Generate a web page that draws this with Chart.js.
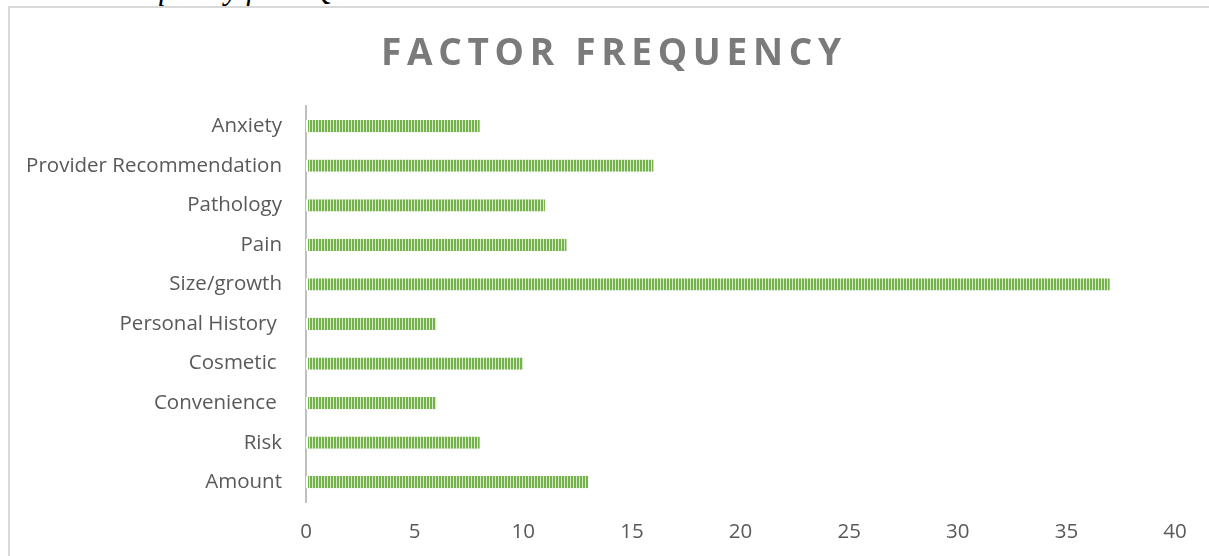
<!DOCTYPE html>
<html>
<head>
<meta charset="utf-8">
<script src="https://cdn.jsdelivr.net/npm/chart.js@4.4.1/dist/chart.umd.min.js"></script>
<style>
  html, body { margin: 0; padding: 0; background: #fff; overflow: hidden; }
  #wrap { position: relative; width: 1209px; height: 556px; overflow: hidden; }
  #caption {
    position: absolute; left: 107px; top: -27px;
    font: italic 31px/31px "Liberation Serif", "Times New Roman", serif;
    color: #000; white-space: nowrap;
  }
  #frame {
    position: absolute; left: 8px; top: 6px; right: -10px; bottom: -10px;
    border-top: 2px solid #d9d9d9; border-left: 2px solid #d9d9d9;
  }
  canvas { position: absolute; left: 0; top: 0; }
</style>
</head>
<body>
<div id="wrap">
  <div id="caption">Frequency from Q</div>
  <div id="frame"></div>
  <canvas id="chart" width="1209" height="556"></canvas>
</div>
<script>
// Chart content
const titleText = 'FACTOR FREQUENCY';
const factors = [
  'Anxiety',
  'Provider Recommendation',
  'Pathology',
  'Pain',
  'Size/growth',
  'Personal History ',
  'Cosmetic ',
  'Convenience ',
  'Risk',
  'Amount'
];
const frequency = [8, 16, 11, 12, 37, 6, 10, 6, 8, 13];
const axisMin = 0;
const axisMax = 40;
const axisStep = 5;

// Styling
const LABEL_FONT = { family: 'Open Sans', size: 20.5 };
const LABEL_COLOR = '#595959';
const TITLE_SPACING = 5.7;   // px between title letters
const TITLE_CENTER_X = 611;  // horizontal centre of the title on the canvas

// Vertical-stripe fill for the bars
function stripePattern() {
  const tile = document.createElement('canvas');
  tile.width = 3; tile.height = 4;
  const t = tile.getContext('2d');
  t.fillStyle = '#d6ebc8';
  t.fillRect(0, 0, 3, 4);
  t.fillStyle = '#75b14c';
  t.fillRect(1, 0, 2, 4);
  return t.createPattern(tile, 'repeat');
}

// Spaced-out title, centred over the whole canvas rather than the padded box
const spacedTitle = {
  id: 'spacedTitle',
  beforeDraw(chart) {
    const tb = chart.titleBlock;
    if (tb && !tb._spaced) {
      const draw = tb.draw;
      tb.draw = function () {
        const ctx = this.ctx;
        ctx.save();
        ctx.letterSpacing = TITLE_SPACING + 'px';
        const boxCenter = (this.left + this.right) / 2;
        ctx.translate(TITLE_CENTER_X - boxCenter + TITLE_SPACING / 2, 0);
        draw.call(this);
        ctx.restore();
      };
      tb._spaced = true;
    }
  }
};

const ctx = document.getElementById('chart').getContext('2d');
new Chart(ctx, {
  type: 'bar',
  data: {
    labels: factors,
    datasets: [{
      data: frequency,
      backgroundColor: stripePattern(),
      borderColor: '#ffffff',
      borderWidth: { left: 2, right: 0, top: 0, bottom: 0 },
      borderSkipped: false,
      categoryPercentage: 1,
      barPercentage: 0.31
    }]
  },
  plugins: [spacedTitle],
  options: {
    indexAxis: 'y',
    responsive: false,
    animation: false,
    devicePixelRatio: 1,
    layout: { padding: { left: 0, right: 34, top: 0, bottom: 0 } },
    plugins: {
      legend: { display: false },
      tooltip: { enabled: false },
      title: {
        display: true,
        text: titleText,
        color: '#7a7a7a',
        font: { family: 'Open Sans', size: 37, weight: 'bold' },
        padding: { top: 32, bottom: 30 }
      }
    },
    scales: {
      x: {
        min: axisMin,
        max: axisMax,
        ticks: { stepSize: axisStep, color: LABEL_COLOR, font: LABEL_FONT, padding: 18 },
        grid: { display: false, drawTicks: false },
        border: { display: false },
        afterFit(scale) { scale.height = 54; }
      },
      y: {
        z: 1,
        ticks: { color: LABEL_COLOR, font: LABEL_FONT, padding: 24 },
        grid: { display: false, drawTicks: false },
        border: { display: true, color: '#bfbfbf', width: 2 },
        afterFit(scale) { scale.width = 306; }
      }
    }
  }
});
</script>
</body>
</html>
